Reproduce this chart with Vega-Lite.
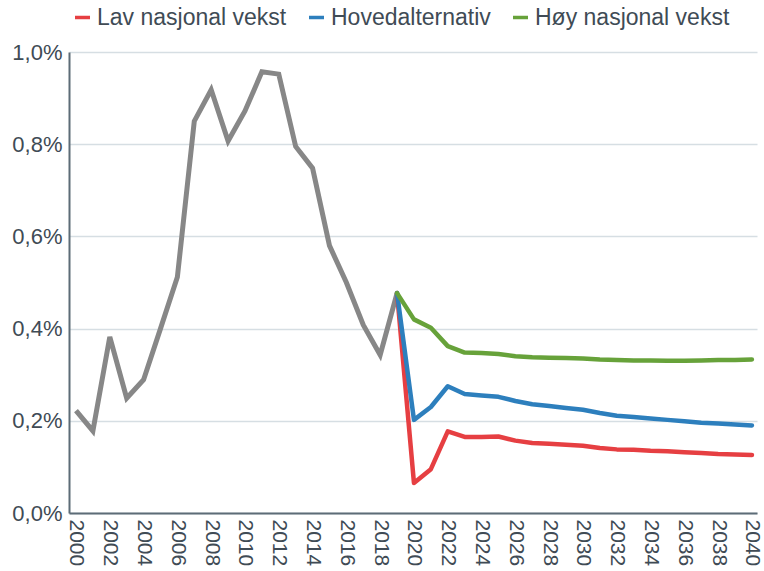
{
  "$schema": "https://vega.github.io/schema/vega-lite/v6.json",
  "width": 688,
  "height": 461,
  "autosize": {"type": "none"},
  "padding": {"left": 69, "top": 52, "right": 7, "bottom": 58},
  "background": "white",
  "config": {
    "font": "Liberation Sans",
    "view": {"stroke": null},
    "axis": {"labelFont": "Liberation Sans", "labelColor": "#404b55", "labelFontSize": 22},
    "axisX": {"labelOverlap": false}
  },
  "datasets": {
    "hist": [
      {"year": 2000, "value": 0.00222},
      {"year": 2001, "value": 0.00178},
      {"year": 2002, "value": 0.00382},
      {"year": 2003, "value": 0.00249},
      {"year": 2004, "value": 0.00289},
      {"year": 2005, "value": 0.00400},
      {"year": 2006, "value": 0.00512},
      {"year": 2007, "value": 0.00850},
      {"year": 2008, "value": 0.00918},
      {"year": 2009, "value": 0.00807},
      {"year": 2010, "value": 0.00872},
      {"year": 2011, "value": 0.00957},
      {"year": 2012, "value": 0.00952},
      {"year": 2013, "value": 0.00795},
      {"year": 2014, "value": 0.00748},
      {"year": 2015, "value": 0.00580},
      {"year": 2016, "value": 0.00500},
      {"year": 2017, "value": 0.00408},
      {"year": 2018, "value": 0.00343},
      {"year": 2019, "value": 0.00477}
    ],
    "scen": [
      {"year": 2019, "scenario": "Lav nasjonal vekst", "value": 0.00477},
      {"year": 2020, "scenario": "Lav nasjonal vekst", "value": 0.00065},
      {"year": 2021, "scenario": "Lav nasjonal vekst", "value": 0.00095},
      {"year": 2022, "scenario": "Lav nasjonal vekst", "value": 0.00177},
      {"year": 2023, "scenario": "Lav nasjonal vekst", "value": 0.00165},
      {"year": 2024, "scenario": "Lav nasjonal vekst", "value": 0.00165},
      {"year": 2025, "scenario": "Lav nasjonal vekst", "value": 0.00166},
      {"year": 2026, "scenario": "Lav nasjonal vekst", "value": 0.00157},
      {"year": 2027, "scenario": "Lav nasjonal vekst", "value": 0.00152},
      {"year": 2028, "scenario": "Lav nasjonal vekst", "value": 0.00150},
      {"year": 2029, "scenario": "Lav nasjonal vekst", "value": 0.00148},
      {"year": 2030, "scenario": "Lav nasjonal vekst", "value": 0.00146},
      {"year": 2031, "scenario": "Lav nasjonal vekst", "value": 0.00141},
      {"year": 2032, "scenario": "Lav nasjonal vekst", "value": 0.00138},
      {"year": 2033, "scenario": "Lav nasjonal vekst", "value": 0.00137},
      {"year": 2034, "scenario": "Lav nasjonal vekst", "value": 0.00135},
      {"year": 2035, "scenario": "Lav nasjonal vekst", "value": 0.00134},
      {"year": 2036, "scenario": "Lav nasjonal vekst", "value": 0.00132},
      {"year": 2037, "scenario": "Lav nasjonal vekst", "value": 0.00130},
      {"year": 2038, "scenario": "Lav nasjonal vekst", "value": 0.00128},
      {"year": 2039, "scenario": "Lav nasjonal vekst", "value": 0.00127},
      {"year": 2040, "scenario": "Lav nasjonal vekst", "value": 0.00126},
      {"year": 2019, "scenario": "Hovedalternativ", "value": 0.00477},
      {"year": 2020, "scenario": "Hovedalternativ", "value": 0.00202},
      {"year": 2021, "scenario": "Hovedalternativ", "value": 0.00230},
      {"year": 2022, "scenario": "Hovedalternativ", "value": 0.00275},
      {"year": 2023, "scenario": "Hovedalternativ", "value": 0.00258},
      {"year": 2024, "scenario": "Hovedalternativ", "value": 0.00255},
      {"year": 2025, "scenario": "Hovedalternativ", "value": 0.00252},
      {"year": 2026, "scenario": "Hovedalternativ", "value": 0.00243},
      {"year": 2027, "scenario": "Hovedalternativ", "value": 0.00236},
      {"year": 2028, "scenario": "Hovedalternativ", "value": 0.00232},
      {"year": 2029, "scenario": "Hovedalternativ", "value": 0.00228},
      {"year": 2030, "scenario": "Hovedalternativ", "value": 0.00224},
      {"year": 2031, "scenario": "Hovedalternativ", "value": 0.00217},
      {"year": 2032, "scenario": "Hovedalternativ", "value": 0.00211},
      {"year": 2033, "scenario": "Hovedalternativ", "value": 0.00208},
      {"year": 2034, "scenario": "Hovedalternativ", "value": 0.00205},
      {"year": 2035, "scenario": "Hovedalternativ", "value": 0.00202},
      {"year": 2036, "scenario": "Hovedalternativ", "value": 0.00199},
      {"year": 2037, "scenario": "Hovedalternativ", "value": 0.00196},
      {"year": 2038, "scenario": "Hovedalternativ", "value": 0.00194},
      {"year": 2039, "scenario": "Hovedalternativ", "value": 0.00192},
      {"year": 2040, "scenario": "Hovedalternativ", "value": 0.00190},
      {"year": 2019, "scenario": "Høy nasjonal vekst", "value": 0.00477},
      {"year": 2020, "scenario": "Høy nasjonal vekst", "value": 0.00420},
      {"year": 2021, "scenario": "Høy nasjonal vekst", "value": 0.00402},
      {"year": 2022, "scenario": "Høy nasjonal vekst", "value": 0.00362},
      {"year": 2023, "scenario": "Høy nasjonal vekst", "value": 0.00348},
      {"year": 2024, "scenario": "Høy nasjonal vekst", "value": 0.00347},
      {"year": 2025, "scenario": "Høy nasjonal vekst", "value": 0.00345},
      {"year": 2026, "scenario": "Høy nasjonal vekst", "value": 0.00340},
      {"year": 2027, "scenario": "Høy nasjonal vekst", "value": 0.00338},
      {"year": 2028, "scenario": "Høy nasjonal vekst", "value": 0.00337},
      {"year": 2029, "scenario": "Høy nasjonal vekst", "value": 0.00336},
      {"year": 2030, "scenario": "Høy nasjonal vekst", "value": 0.00335},
      {"year": 2031, "scenario": "Høy nasjonal vekst", "value": 0.00333},
      {"year": 2032, "scenario": "Høy nasjonal vekst", "value": 0.00332},
      {"year": 2033, "scenario": "Høy nasjonal vekst", "value": 0.00331},
      {"year": 2034, "scenario": "Høy nasjonal vekst", "value": 0.00331},
      {"year": 2035, "scenario": "Høy nasjonal vekst", "value": 0.00330},
      {"year": 2036, "scenario": "Høy nasjonal vekst", "value": 0.00330},
      {"year": 2037, "scenario": "Høy nasjonal vekst", "value": 0.00331},
      {"year": 2038, "scenario": "Høy nasjonal vekst", "value": 0.00332},
      {"year": 2039, "scenario": "Høy nasjonal vekst", "value": 0.00332},
      {"year": 2040, "scenario": "Høy nasjonal vekst", "value": 0.00333}
    ]
  },
  "encoding": {
    "x": {
      "field": "year", "type": "quantitative",
      "scale": {"domain": [1999.586, 2040.3], "nice": false, "zero": false},
      "axis": {
        "title": null, "values": [2000, 2002, 2004, 2006, 2008, 2010, 2012, 2014, 2016, 2018, 2020, 2022, 2024, 2026, 2028, 2030, 2032, 2034, 2036, 2038, 2040],
        "format": "d", "labelAngle": 90, "labelAlign": "left", "labelBaseline": "middle",
        "labelPadding": 6, "ticks": false, "grid": false,
        "domainColor": "#5d6c77", "domainWidth": 2, "labelFontSize": 21, "labelOverlap": false, "labelFlush": false, "labelBound": false
      }
    },
    "y": {
      "field": "value", "type": "quantitative",
      "scale": {"domain": [0, 0.01], "nice": false},
      "axis": {
        "title": null, "values": [0, 0.002, 0.004, 0.006, 0.008, 0.01],
        "labelExpr": "replace(format(datum.value, '.1%'), '.', ',')",
        "labelPadding": 7, "ticks": false, "gridColor": "#d6dee3", "gridWidth": 1.3,
        "domainColor": "#5d6c77", "domainWidth": 2, "labelFontSize": 22
      }
    }
  },
  "layer": [
    {
      "data": {"name": "hist"},
      "mark": {"type": "line", "color": "#878787", "strokeWidth": 5, "strokeJoin": "miter", "strokeCap": "butt"}
    },
    {
      "data": {"name": "scen"},
      "mark": {"type": "line", "strokeWidth": 4.5, "strokeJoin": "round", "strokeCap": "round"},
      "encoding": {
        "color": {
          "field": "scenario", "type": "nominal",
          "scale": {"domain": ["Lav nasjonal vekst", "Hovedalternativ", "Høy nasjonal vekst"], "range": ["#e63f42", "#2d7fbd", "#67a23a"]},
          "legend": {
            "title": null, "orient": "none", "direction": "horizontal",
            "legendX": 2, "legendY": -46, "padding": 0, "gridAlign": "none",
            "labelFontSize": 23, "labelColor": "#404b55", "labelFont": "Liberation Sans",
            "symbolType": "stroke", "symbolSize": 225, "symbolStrokeWidth": 3.5,
            "labelOffset": 3, "columnPadding": 15, "labelLimit": 400
          }
        }
      }
    }
  ]
}
